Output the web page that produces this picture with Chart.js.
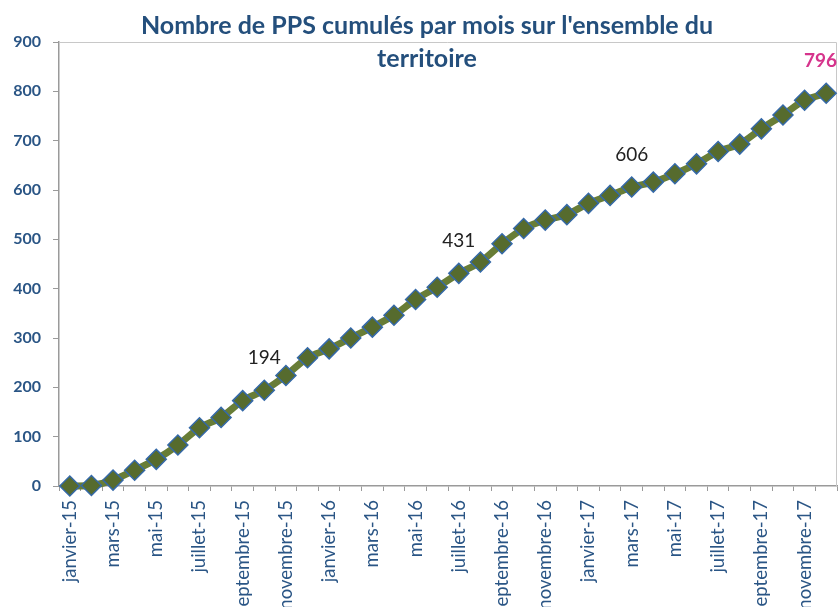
<!DOCTYPE html>
<html>
<head>
<meta charset="utf-8">
<script src="https://cdn.jsdelivr.net/npm/chart.js@4/dist/chart.umd.min.js"></script>
<style>
  html, body { margin: 0; padding: 0; background: #ffffff; }
  #wrap { position: relative; width: 838px; height: 607px; }
</style>
</head>
<body>
<div id="wrap"><canvas id="c" width="838" height="607"></canvas></div>
<script>
// ---- Data ----
const months = [
  "janvier-15","février-15","mars-15","avril-15","mai-15","juin-15",
  "juillet-15","août-15","septembre-15","octobre-15","novembre-15","décembre-15",
  "janvier-16","février-16","mars-16","avril-16","mai-16","juin-16",
  "juillet-16","août-16","septembre-16","octobre-16","novembre-16","décembre-16",
  "janvier-17","février-17","mars-17","avril-17","mai-17","juin-17",
  "juillet-17","août-17","septembre-17","octobre-17","novembre-17","décembre-17"
];
const ppsCumules = [
  0, 1, 12, 32, 54, 83, 118, 139, 173, 194, 224, 260,
  278, 300, 322, 346, 378, 403, 431, 454, 491, 522, 539, 550,
  573, 589, 606, 616, 633, 653, 678, 693, 724, 752, 782, 796
];
const yTicks = [0, 100, 200, 300, 400, 500, 600, 700, 800, 900];
const labelledPoints = [9, 18, 26];   // plain value labels
const highlightedPoint = [35];       // last value, highlighted
const titleLines = ["Nombre de PPS cumulés par mois sur l'ensemble du", "territoire"];

const FONT = "Lato, 'Open Sans', 'DejaVu Sans', sans-serif";
const BLUE_TXT = "#2a5585";

const framePlugin = {
  id: 'frame',
  beforeDatasetsDraw(chart) {
    const a = chart.chartArea, ctx = chart.ctx;
    ctx.save();
    ctx.strokeStyle = '#c8c8c8';
    ctx.lineWidth = 1;
    ctx.beginPath();
    ctx.moveTo(a.left, a.top + 0.5);
    ctx.lineTo(a.right - 0.5, a.top + 0.5);
    ctx.lineTo(a.right - 0.5, a.bottom);
    ctx.stroke();
    ctx.restore();
  },
  afterDraw(chart) {
    const ctx = chart.ctx;
    const meta = chart.getDatasetMeta(0);
    ctx.save();
    // title
    ctx.fillStyle = '#244f7c';
    ctx.font = "bold 25px " + FONT;
    ctx.textAlign = 'center';
    ctx.textBaseline = 'middle';
    ctx.fillText(titleLines[0], 427, 26);
    ctx.fillText(titleLines[1], 427, 59);
    // value labels
    ctx.font = "19px " + FONT;
    ctx.fillStyle = '#222222';
    labelledPoints.forEach(i => {
      const p = meta.data[i];
      ctx.fillText(String(ppsCumules[i]), p.x, p.y - 32);
    });
    ctx.font = "bold 19px " + FONT;
    ctx.fillStyle = '#d6348c';
    highlightedPoint.forEach(i => {
      const p = meta.data[i];
      const txt = String(ppsCumules[i]);
      const w = ctx.measureText(txt).width;
      const x = Math.min(p.x, chart.width - w / 2 - 1);
      ctx.fillText(txt, x, p.y - 32);
    });
    ctx.restore();
  }
};

new Chart(document.getElementById('c'), {
  type: 'line',
  data: {
    labels: months,
    datasets: [{
      data: ppsCumules,
      borderColor: '#687d36',
      borderWidth: 7,
      tension: 0.25,
      pointStyle: 'rectRot',
      pointRadius: 10,
      pointHoverRadius: 10,
      pointBackgroundColor: '#566b2e',
      pointBorderColor: '#3569a8',
      pointBorderWidth: 1.5,
      clip: false
    }]
  },
  options: {
    responsive: false,
    animation: false,
    devicePixelRatio: 1,
    layout: { autoPadding: false, padding: { top: 42, right: 1, left: 0, bottom: 0 } },
    plugins: { legend: { display: false }, title: { display: false }, tooltip: { enabled: false } },
    scales: {
      x: {
        type: 'category',
        offset: true,
        grid: {
          display: true, drawOnChartArea: false, offset: true,
          drawTicks: true, tickLength: 5, color: '#9a9a9a'
        },
        border: { display: true, color: '#9a9a9a', width: 1.5 },
        ticks: {
          autoSkip: false,
          maxRotation: 90, minRotation: 90,
          padding: 9,
          color: BLUE_TXT,
          font: { family: FONT, size: 18.5 },
          callback: function (v, i) { return i % 2 === 0 ? months[i] : ''; }
        },
        afterFit(scale) {
          scale.height = 121;
          scale.paddingLeft = 0; scale.paddingRight = 0;
          scale.paddingTop = 0; scale.paddingBottom = 0;
        }
      },
      y: {
        min: 0, max: 900,
        afterBuildTicks(scale) { scale.ticks = yTicks.map(v => ({ value: v })); },
        grid: {
          display: true, drawOnChartArea: false,
          drawTicks: true, tickLength: 6, color: '#9a9a9a'
        },
        border: { display: true, color: '#9a9a9a', width: 1.5 },
        ticks: {
          padding: 12,
          color: BLUE_TXT,
          font: { family: FONT, size: 16, weight: 'bold' }
        },
        afterFit(scale) {
          scale.width = 59;
          scale.paddingTop = 0; scale.paddingBottom = 0;
        }
      }
    }
  },
  plugins: [framePlugin]
});
</script>
</body>
</html>
